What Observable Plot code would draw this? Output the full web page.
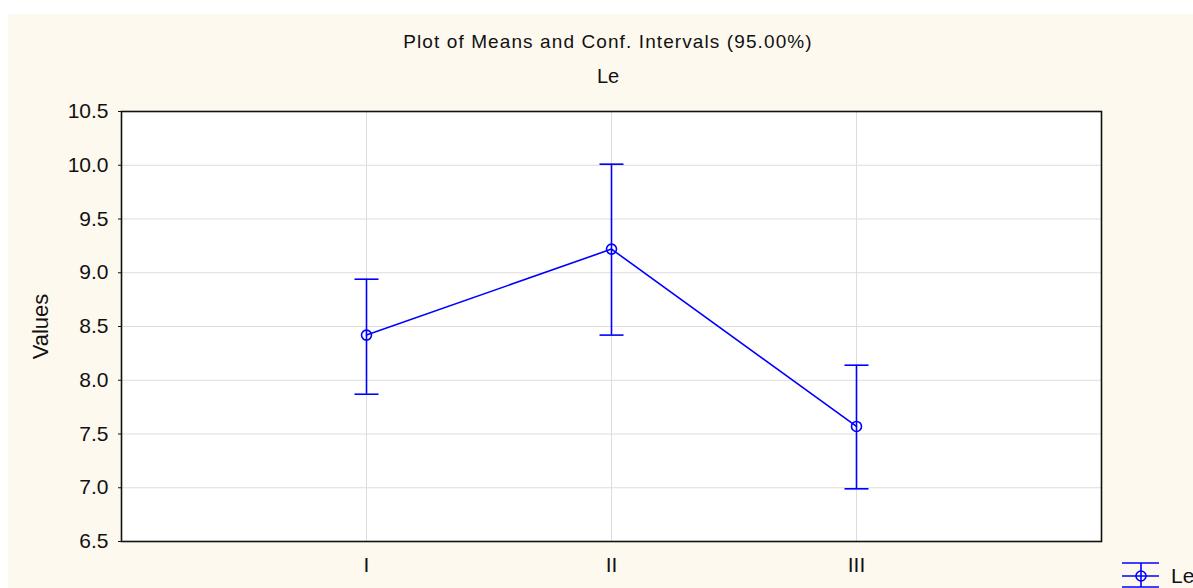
<!DOCTYPE html>
<html>
<head>
<meta charset="utf-8">
<script src="https://cdn.jsdelivr.net/npm/d3@7"></script>
<script src="https://cdn.jsdelivr.net/npm/@observablehq/plot@0.6"></script>
<style>
  html, body { margin: 0; padding: 0; background: white; }
  #wrap { position: relative; width: 1193px; height: 588px; overflow: hidden; font-family: "Liberation Sans", Arial, sans-serif; color: #111; }
  #panel { position: absolute; left: 8px; top: 14px; right: 0; bottom: 0; background: #fdf9ef; }
  .t { position: absolute; left: 0; width: 1216px; text-align: center; white-space: nowrap; }
  #chart { position: absolute; left: 0; top: 0; }
  #legend { position: absolute; left: 1118px; top: 558px; }
</style>
</head>
<body>
<div id="wrap">
  <div id="panel"></div>
  <div id="chart"></div>
  <div class="t" id="title" style="top:31px;font-size:19px;letter-spacing:1.1px;">Plot of Means and Conf. Intervals (95.00%)</div>
  <div class="t" id="sub" style="top:65px;font-size:20px;">Le</div>
  <div id="legend"></div>
</div>
<script>
const categories = ["I", "II", "III"];
const means = [8.42, 9.22, 7.57];
const upper = [8.94, 10.01, 8.14];
const lower = [7.87, 8.42, 6.99];
const yTicks = [6.5, 7.0, 7.5, 8.0, 8.5, 9.0, 9.5, 10.0, 10.5];
const seriesName = "Le";
const yLabel = "Values";

const data = categories.map((c, i) => ({label: c, mean: means[i], lo: lower[i], hi: upper[i]}));
const blue = "#0000ff";

// horizontal cap symbol: half-width equals the dot radius
const capSymbol = {
  draw(context, size) {
    const w = Math.sqrt(size / Math.PI);
    context.moveTo(-w, 0);
    context.lineTo(w, 0);
  }
};

const plot = Plot.plot({
  width: 1193,
  height: 588,
  marginLeft: 121,
  marginRight: 92,
  marginTop: 111,
  marginBottom: 47,
  style: {background: "transparent", fontFamily: "Liberation Sans, Arial, sans-serif", color: "#111"},
  x: {type: "point", domain: categories, padding: 1},
  y: {domain: [6.5, 10.5]},
  marks: [
    Plot.frame({fill: "white", stroke: "none"}),
    Plot.gridY(yTicks, {stroke: "#dddddd", strokeOpacity: 1, strokeWidth: 1}),
    Plot.gridX(categories, {stroke: "#dddddd", strokeOpacity: 1, strokeWidth: 1}),
    Plot.axisY(yTicks, {tickFormat: d3.format(".1f"), fontSize: 21, tickSize: 3, tickPadding: 10, label: null, stroke: "#111"}),
    Plot.axisX(categories, {tickSize: 0, tickPadding: 16, fontSize: 21, label: null}),
    Plot.text([yLabel], {frameAnchor: "left", textAnchor: "middle", dx: -81, rotate: -90, fontSize: 22, fill: "#111"}),
    Plot.ruleX(data, {x: "label", y1: "lo", y2: "hi", stroke: blue, strokeWidth: 1.6}),
    Plot.dot(data, {x: "label", y: "hi", symbol: capSymbol, r: 12, stroke: blue, fill: "none", strokeWidth: 1.6}),
    Plot.dot(data, {x: "label", y: "lo", symbol: capSymbol, r: 12, stroke: blue, fill: "none", strokeWidth: 1.6}),
    Plot.line(data, {x: "label", y: "mean", stroke: blue, strokeWidth: 1.6}),
    Plot.dot(data, {x: "label", y: "mean", r: 5, stroke: blue, fill: "none", strokeWidth: 1.6}),
    Plot.frame({stroke: "#111", strokeWidth: 1.6})
  ]
});
document.getElementById("chart").appendChild(plot);

// legend
const lg = d3.select("#legend").append("svg").attr("width", 75).attr("height", 30).style("overflow", "visible");
const g = lg.append("g").attr("stroke", blue).attr("stroke-width", 1.6).attr("fill", "none");
[5, 18, 29].forEach(y => g.append("line").attr("x1", 4).attr("x2", 41).attr("y1", y).attr("y2", y));
g.append("line").attr("x1", 23).attr("x2", 23).attr("y1", 5).attr("y2", 29);
g.append("circle").attr("cx", 23).attr("cy", 18).attr("r", 5);
lg.append("text").attr("x", 53).attr("y", 25).attr("font-size", 21).attr("fill", "#111").attr("font-family", "Liberation Sans, Arial, sans-serif").text(seriesName);
</script>
</body>
</html>
